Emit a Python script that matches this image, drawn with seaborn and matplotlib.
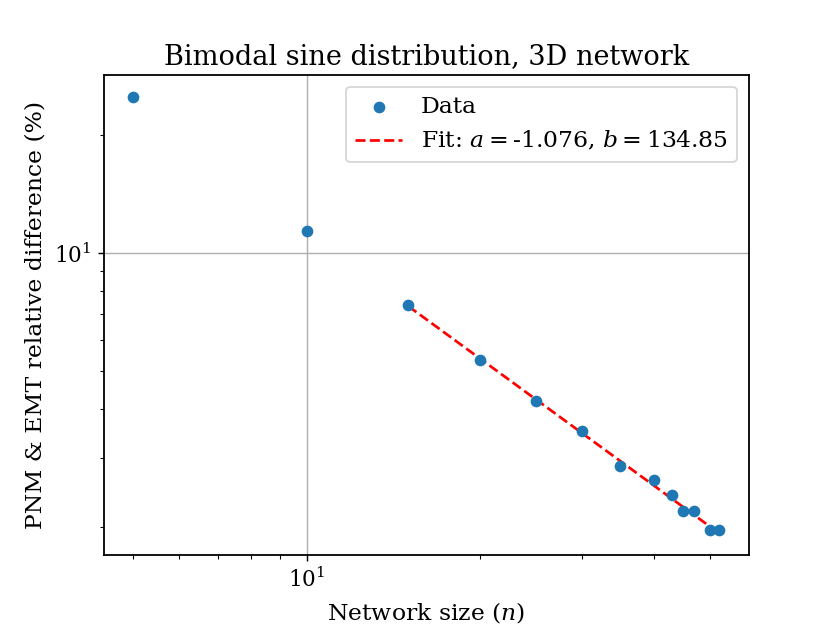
import numpy as np
import pandas as pd
import matplotlib
matplotlib.use("Agg")
import matplotlib.pyplot as plt
import seaborn as sns

# values
network_size = [5, 10, 15, 20, 25, 30, 35, 40, 43, 45, 47, 50, 52]
rel_diff = [25.1, 11.4, 7.37, 5.33, 4.20, 3.52, 2.86, 2.63, 2.41, 2.19, 2.19, 1.96, 1.96]
fit_a = -1.076
fit_b = 134.85
fit_start = 2  # fit uses points from n = 15 onwards

# plain matplotlib look: black text, ticks on, no seaborn background
sns.set_style("ticks", rc={
    "text.color": "black",
    "axes.labelcolor": "black",
    "axes.edgecolor": "black",
    "xtick.color": "black",
    "ytick.color": "black",
    "xtick.direction": "out",
    "ytick.direction": "out",
})
plt.rcParams["font.family"] = ["DejaVu Serif"]
plt.rcParams["mathtext.fontset"] = "dejavuserif"
plt.rcParams["font.size"] = 12

df = pd.DataFrame({"n": network_size, "diff": rel_diff})
fit_n = np.array(network_size[fit_start:], dtype=float)
fit_df = pd.DataFrame({"n": fit_n, "diff": fit_b * fit_n ** fit_a})

fig, ax = plt.subplots(figsize=(6.4, 4.8), dpi=130)
ax.set_xscale("log")
ax.set_yscale("log")

sns.scatterplot(data=df, x="n", y="diff", ax=ax, color="#1f77b4", s=42,
                linewidth=0, label="Data", zorder=3)
sns.lineplot(data=fit_df, x="n", y="diff", ax=ax, color="red", linestyle="--",
             linewidth=1.5, label=f"Fit: $a = ${fit_a:.3f}, $b = ${fit_b:.2f}",
             zorder=2)

ax.grid(True, which="major", color="#b0b0b0", linewidth=0.8)
ax.grid(False, which="minor")
for side in ax.spines.values():
    side.set_linewidth(1.0)
ax.tick_params(which="major", length=3.5, width=0.8, labelsize=12)
ax.tick_params(which="minor", length=2, width=0.6)

ax.set_title("Bimodal sine distribution, 3D network", fontsize=15)
ax.set_xlabel("Network size ($n$)", fontsize=13)
ax.set_ylabel("PNM & EMT relative difference (%)", fontsize=13)
leg = ax.legend(loc="upper right", fontsize=13, framealpha=0.8,
                edgecolor="#cccccc", fancybox=True)

fig.savefig("out.png", dpi=130)
